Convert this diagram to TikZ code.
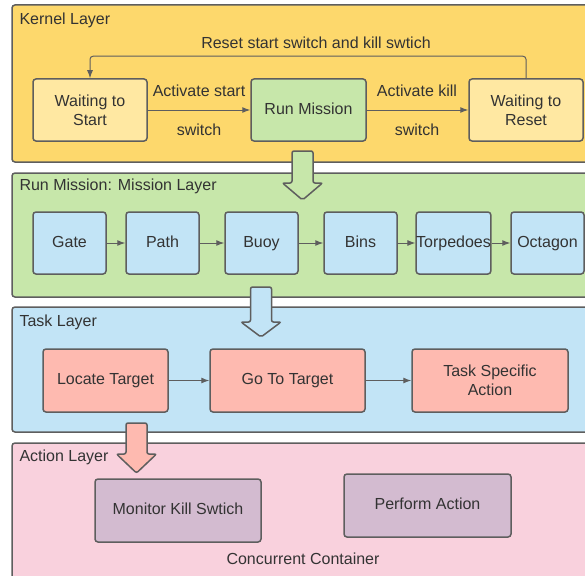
\documentclass[tikz,border=0pt]{standalone}
\usepackage{fontspec}
\setmainfont{Liberation Sans}
\usetikzlibrary{arrows.meta}
\definecolor{linegray}{HTML}{5E5E5E}
\definecolor{textgray}{HTML}{333333}
\definecolor{kernelyellow}{HTML}{FDD86C}
\definecolor{waityellow}{HTML}{FFE8A2}
\definecolor{missiongreen}{HTML}{C7E7AA}
\definecolor{taskblue}{HTML}{C2E4F6}
\definecolor{tasksalmon}{HTML}{FEBAB0}
\definecolor{actionpink}{HTML}{F9D1DD}
\definecolor{actionmauve}{HTML}{D3BBD0}
\newcommand{\bigarrow}[5]{%
  \filldraw[bigarr, fill=#5] ({#1-10.5},#2) -- ({#1+10.5},#2) -- ({#1+10.5},#3)
    -- ({#1+20},#3) -- (#1,#4) -- ({#1-20},#3) -- ({#1-10.5},#3) -- cycle;}
\begin{document}
\begin{tikzpicture}[x=1pt, y=-1pt, font=\fontsize{16}{19}\selectfont, text=textgray]
		\tikzset{layer/.style = {draw=linegray, line width=1.5pt, rounded corners=3pt}}
		\tikzset{state/.style = {draw=linegray, line width=1.5pt, rounded corners=3pt, align=center, inner sep=0pt}}
		\tikzset{oneline/.style = {state, text height=11.5pt, text depth=3.5pt}}
		\tikzset{flow/.style = {draw=linegray, line width=1pt, -{Latex[length=8pt,width=6pt]}}}
		\tikzset{bigarr/.style = {draw=linegray, line width=1.5pt, rounded corners=2pt}}
		\useasboundingbox (0,0) rectangle (585,575);
		\clip (0,0) rectangle (585,575);
		% Draw layers
		\draw[layer, fill=kernelyellow] (12,5) rectangle (595,162);
		\draw[layer, fill=missiongreen] (12,173) rectangle (595,297);
		\draw[layer, fill=taskblue] (12,307) rectangle (595,432);
		\draw[layer, fill=actionpink] (12,443) rectangle (595,600);
		\node[anchor=west] (kernellbl) at (16,20) {Kernel Layer};
		\node[anchor=west] (missionlbl) at (16,186) {Run Mission: Mission Layer};
		\node[anchor=west] (tasklbl) at (16,322) {Task Layer};
		\node[anchor=west] (actionlbl) at (16,457) {Action Layer};
		% Kernel layer
		\node[state, fill=waityellow, minimum width=114pt, minimum height=62pt] (wstart) at (90,110) {Waiting to\\Start};
		\node[oneline, fill=missiongreen, minimum width=115pt, minimum height=62pt] (runm) at (308.5,110) {Run Mission};
		\node[state, fill=waityellow, minimum width=114pt, minimum height=62pt] (wreset) at (526,110) {Waiting to\\Reset};
		\draw[flow] (wstart) -- (runm);
		\draw[flow] (runm) -- (wreset);
		\node (actstart) at (199,91) {Activate start};
		\node (swstart) at (199,130) {switch};
		\node (actkill) at (417,91) {Activate kill};
		\node (swkill) at (417,130) {switch};
		\draw[flow, rounded corners=3pt] (wreset.north) -- ++(0,-22) -| (wstart.north);
		\node (resetlbl) at (316,43) {Reset start switch and kill swtich};
		% Mission layer
		\node[oneline, fill=taskblue, minimum width=73pt, minimum height=62pt] (gate) at (69.5,243) {Gate};
		\node[oneline, fill=taskblue, minimum width=73pt, minimum height=62pt] (path) at (162.5,243) {Path};
		\node[oneline, fill=taskblue, minimum width=73pt, minimum height=62pt] (buoy) at (261.5,243) {Buoy};
		\node[oneline, fill=taskblue, minimum width=73pt, minimum height=62pt] (bins) at (360.5,243) {Bins};
		\node[oneline, fill=taskblue, minimum width=73pt, minimum height=62pt] (torp) at (453.5,243) {Torpedoes};
		\node[oneline, fill=taskblue, minimum width=73pt, minimum height=62pt] (octa) at (547.5,243) {Octagon};
		\draw[flow] (gate) -- (path);
		\draw[flow] (path) -- (buoy);
		\draw[flow] (buoy) -- (bins);
		\draw[flow] (bins.east) -- (torp.west);
		\draw[flow] (torp.east) -- (octa.west);
		% Task layer
		\node[oneline, fill=tasksalmon, minimum width=125pt, minimum height=63pt] (locate) at (105.5,380.5) {Locate Target};
		\node[oneline, fill=tasksalmon, minimum width=155pt, minimum height=63pt] (gototgt) at (287.5,380.5) {Go To Target};
		\node[state, fill=tasksalmon, minimum width=156pt, minimum height=63pt] (specific) at (490,380.5) {Task Specific\\Action};
		\draw[flow] (locate) -- (gototgt);
		\draw[flow] (gototgt) -- (specific);
		% Action layer
		\node[oneline, fill=actionmauve, minimum width=166pt, minimum height=63pt] (monitor) at (178,510.5) {Monitor Kill Swtich};
		\node[oneline, fill=actionmauve, minimum width=167pt, minimum height=63pt] (perform) at (427.5,505.5) {Perform Action};
		\node (concur) at (303,559) {Concurrent Container};
		% Draw block arrows between layers
		\bigarrow{302.5}{151}{183}{200}{missiongreen}
		\bigarrow{261}{287}{322}{337}{taskblue}
		\bigarrow{136.5}{423}{454}{473}{tasksalmon}
	\end{tikzpicture}
\end{document}
